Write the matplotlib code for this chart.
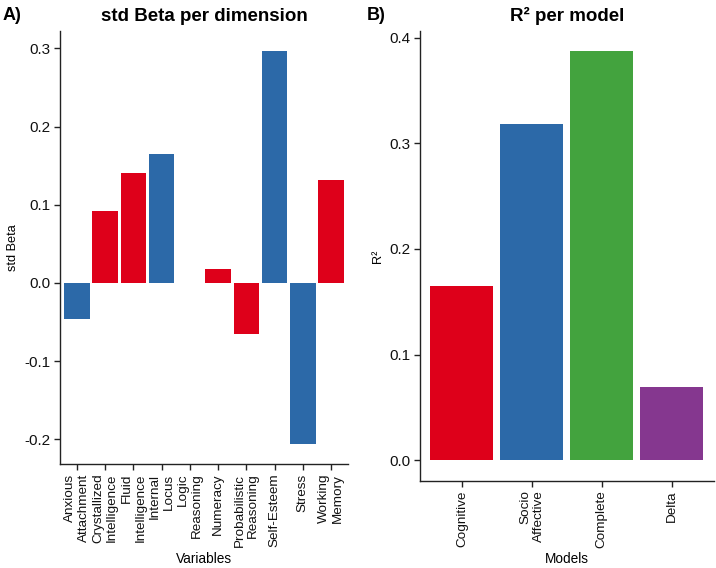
import matplotlib
matplotlib.use("Agg")
import matplotlib.pyplot as plt

plt.rcParams['font.family'] = ['Liberation Sans', 'DejaVu Sans']
plt.rcParams['axes.unicode_minus'] = False

# Panel A data
variables = ["Anxious\nAttachment", "Crystallized\nIntelligence", "Fluid\nIntelligence",
             "Internal\nLocus", "Logic\nReasoning", "Numeracy", "Probabilistic\nReasoning",
             "Self-Esteem", "Stress", "Working\nMemory"]
std_beta = [-0.0456, 0.0914, 0.141, 0.165, 0.0, 0.0174, -0.0656, 0.297, -0.2065, 0.1315]
beta_group = ["socio", "cog", "cog", "socio", "cog", "cog", "cog", "socio", "socio", "cog"]

# Panel B data
models = ["Cognitive", "Socio\nAffective", "Complete", "Delta"]
r2 = [0.165, 0.318, 0.387, 0.0697]

RED = "#DE001A"
BLUE = "#2C69A8"
GREEN = "#43A33E"
PURPLE = "#85378F"
group_colors = {"cog": RED, "socio": BLUE}
model_colors = [RED, BLUE, GREEN, PURPLE]

fig = plt.figure(figsize=(7.16, 5.68), dpi=100)
axA = fig.add_axes([60/716, 1-464/568, 288/716, 433/568])
axB = fig.add_axes([420/716, 1-480.7/568, 293.6/716, 449.7/568])

xa = list(range(len(variables)))
axA.bar(xa, std_beta, width=0.9, color=[group_colors[g] for g in beta_group])
axA.set_xlim(-0.6, len(variables) - 0.4)
lo, hi = min(std_beta), max(std_beta)
rng = hi - lo
axA.set_ylim(lo - 0.05*rng, hi + 0.05*rng)
axA.set_yticks([-0.2, -0.1, 0.0, 0.1, 0.2, 0.3])
axA.set_yticklabels(["-0.2", "-0.1", "0.0", "0.1", "0.2", "0.3"])
axA.set_xticks(xa)
axA.set_xticklabels(variables, rotation=90, ha='center', va='top', multialignment='right', fontsize=9.7)
axA.set_xlabel("Variables", fontsize=9.8, labelpad=3)
axA.set_ylabel("std Beta", fontsize=9.2, labelpad=4)
axA.set_title("std Beta per dimension", fontsize=13.5, fontweight='bold', pad=7)

xb = list(range(len(models)))
axB.bar(xb, r2, width=0.9, color=model_colors)
axB.set_xlim(-0.6, len(models) - 0.4)
top = max(r2)
axB.set_ylim(-0.05*top, top*1.05)
axB.set_yticks([0.0, 0.1, 0.2, 0.3, 0.4])
axB.set_yticklabels(["0.0", "0.1", "0.2", "0.3", "0.4"])
axB.set_xticks(xb)
axB.set_xticklabels(models, rotation=90, ha='center', va='top', multialignment='right', fontsize=9.7)
axB.set_xlabel("Models", fontsize=9.8, labelpad=3)
axB.set_ylabel("R²", fontsize=9.2, labelpad=4)
axB.set_title("R² per model", fontsize=13.5, fontweight='bold', pad=7)

for ax in (axA, axB):
    for s in ("top", "right"):
        ax.spines[s].set_visible(False)
    for s in ("left", "bottom"):
        ax.spines[s].set_linewidth(1.0)
        ax.spines[s].set_color("#222222")
    ax.tick_params(axis='both', length=4, width=1.0, color="#222222", pad=3)
    ax.tick_params(axis='y', labelsize=11, labelcolor="#111111")
    ax.tick_params(axis='x', labelcolor="#111111")

fig.text(3/716, 1-15/568, "A)", fontsize=13, fontweight='bold', va='center', ha='left')
fig.text(367/716, 1-15/568, "B)", fontsize=13, fontweight='bold', va='center', ha='left')

fig.savefig("out.png", dpi=100)
